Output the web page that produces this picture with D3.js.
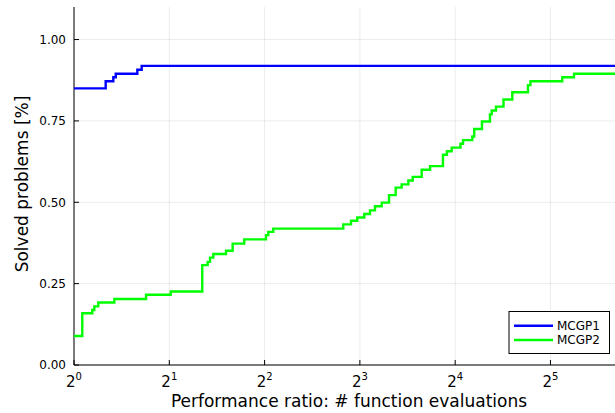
<!DOCTYPE html>
<html><head><meta charset="utf-8">
<script src="https://cdn.jsdelivr.net/npm/d3@7"></script>
<style>body{margin:0;background:#fff}svg{display:block;font-family:"DejaVu Sans",sans-serif}</style>
</head><body><svg id="c" width="615" height="413"></svg>
<script>
// ---- data ----
const seriesNames = ["MCGP1", "MCGP2"];
const mcgp1Ratios = [1, 1.259, 1.331, 1.355, 1.585, 1.636];
const mcgp1Values = [0.850, 0.872, 0.884, 0.895, 0.907, 0.919];
const mcgp2Ratios = [1, 1.062, 1.142, 1.159, 1.193, 1.341, 1.689, 2.021, 2.542, 2.644, 2.689, 2.755, 3.021, 3.171, 3.450, 4.042, 4.110, 4.261, 7.09, 7.50, 7.85, 8.26, 8.61, 8.93, 9.38, 9.89, 10.38, 10.84, 11.38, 11.75, 12.54, 13.33, 14.64, 15.07, 15.60, 16.63, 16.94, 18.12, 18.38, 19.44, 20.61, 20.87, 21.53, 22.74, 24.24, 27.17, 27.67, 34.87, 37.98];
const mcgp2Values = [0.089, 0.159, 0.169, 0.180, 0.192, 0.203, 0.216, 0.226, 0.307, 0.317, 0.330, 0.341, 0.351, 0.373, 0.386, 0.399, 0.409, 0.419, 0.432, 0.443, 0.453, 0.464, 0.475, 0.488, 0.499, 0.522, 0.545, 0.555, 0.567, 0.578, 0.600, 0.611, 0.646, 0.657, 0.668, 0.680, 0.691, 0.702, 0.725, 0.748, 0.770, 0.782, 0.794, 0.816, 0.838, 0.860, 0.872, 0.884, 0.895];
const xTickExponents = [0, 1, 2, 3, 4, 5];
const yTicks = [0, 0.25, 0.5, 0.75, 1.0];
const xMax = 51.17;
const colors = ["#0000ff", "#00ff00"];

// ---- layout ----
const L = 74, R = 615, T = 7, B = 365;
const svg = d3.select("#c");
const x = d3.scaleLog().base(2).domain([1, xMax]).range([L, R]);
const y = d3.scaleLinear().domain([0, 1.1]).range([B, T]);

// grid
const grid = svg.append("g").attr("stroke", "rgba(0,0,0,0.1)").attr("stroke-width", 0.8);
xTickExponents.forEach(e => grid.append("line").attr("x1", x(2 ** e)).attr("x2", x(2 ** e)).attr("y1", T).attr("y2", B));
yTicks.forEach(v => grid.append("line").attr("x1", L).attr("x2", R).attr("y1", y(v)).attr("y2", y(v)));

// axes lines
svg.append("line").attr("x1", L).attr("x2", L).attr("y1", T).attr("y2", B).attr("stroke", "#000").attr("stroke-width", 1);
svg.append("line").attr("x1", L).attr("x2", R).attr("y1", B).attr("y2", B).attr("stroke", "#000").attr("stroke-width", 1);

// ticks (inward)
xTickExponents.forEach(e => {
  svg.append("line").attr("x1", x(2 ** e)).attr("x2", x(2 ** e)).attr("y1", B).attr("y2", B - 5).attr("stroke", "#000");
  const t = svg.append("text").attr("x", x(2 ** e)).attr("y", B + 21.5).attr("text-anchor", "middle").attr("font-size", 15).attr("fill", "#000");
  t.append("tspan").text("2");
  t.append("tspan").attr("dy", -6.5).attr("font-size", 10).text(String(e));
});
yTicks.forEach(v => {
  svg.append("line").attr("x1", L).attr("x2", L + 5).attr("y1", y(v)).attr("y2", y(v)).attr("stroke", "#000");
  svg.append("text").attr("x", L - 8).attr("y", y(v) + 4.3).attr("text-anchor", "end").attr("font-size", 12).attr("fill", "#000").text(v.toFixed(2));
});

// titles
svg.append("text").attr("x", 349).attr("y", 407).attr("text-anchor", "middle").attr("font-size", 17).attr("fill", "#000").text("Performance ratio: # function evaluations");
svg.append("text").attr("transform", `translate(28,${184}) rotate(-90)`).attr("text-anchor", "middle").attr("font-size", 17).attr("fill", "#000").text("Solved problems [%]");

// clip
svg.append("clipPath").attr("id", "clip").append("rect").attr("x", L).attr("y", T).attr("width", R - L).attr("height", B - T);

const line = d3.line().x(d => x(d[0])).y(d => y(d[1])).curve(d3.curveStepAfter);
const allSeries = [
  [mcgp1Ratios, mcgp1Values],
  [mcgp2Ratios, mcgp2Values]
];
allSeries.forEach(([rs, vs], i) => {
  const pts = rs.map((r, k) => [r, vs[k]]);
  pts.push([xMax, vs[vs.length - 1]]);
  svg.append("path").attr("clip-path", "url(#clip)").attr("d", line(pts)).attr("fill", "none").attr("stroke", colors[i]).attr("stroke-width", 2.4);
});

// legend
const lg = svg.append("g");
lg.append("rect").attr("x", 509).attr("y", 311.5).attr("width", 100.5).attr("height", 42).attr("fill", "#fff").attr("stroke", "#000").attr("stroke-width", 1);
seriesNames.forEach((n, i) => {
  const yy = 325.7 + i * 14.3;
  lg.append("line").attr("x1", 514).attr("x2", 553).attr("y1", yy).attr("y2", yy).attr("stroke", colors[i]).attr("stroke-width", 2.4);
  lg.append("text").attr("x", 557).attr("y", yy + 4.3).attr("font-size", 12).attr("fill", "#000").text(n);
});
</script></body></html>
